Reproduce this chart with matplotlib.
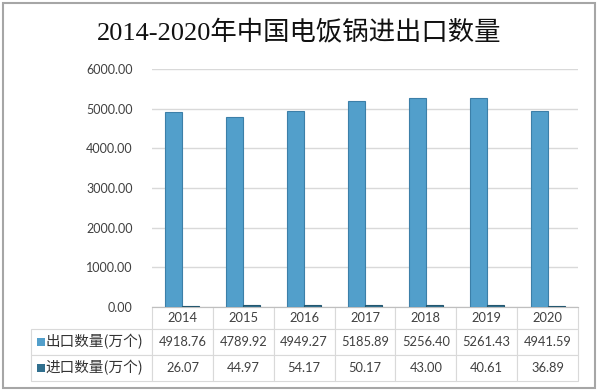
import numpy as np
import matplotlib
matplotlib.use('Agg')
import matplotlib.pyplot as plt
from matplotlib.patches import Rectangle

# data
years = ['2014', '2015', '2016', '2017', '2018', '2019', '2020']
export_qty = [4918.76, 4789.92, 4949.27, 5185.89, 5256.40, 5261.43, 4941.59]
import_qty = [26.07, 44.97, 54.17, 50.17, 43.00, 40.61, 36.89]
series_names = ['出口数量(万个)', '进口数量(万个)']
title = '2014-2020年中国电饭锅进出口数量'

plt.rcParams['font.family'] = ['Lato', 'Noto Sans CJK SC', 'DejaVu Sans']

W, H = 599, 392
fig = plt.figure(figsize=(W / 100, H / 100), dpi=100)
fig.patch.set_facecolor('white')

# axes box in pixels (left, top, right, bottom)
ax_l, ax_t, ax_r, ax_b = 152, 69, 578, 307
ax = fig.add_axes([ax_l / W, 1 - ax_b / H, (ax_r - ax_l) / W, (ax_b - ax_t) / H])

x = np.arange(len(years))
bw = 0.28
export_color = '#529FCB'
import_color = '#31708F'
ax.bar(x - bw / 2, export_qty, width=bw, color=export_color, edgecolor='#3C7FA8', linewidth=0.8, zorder=3)
ax.bar(x + bw / 2, import_qty, width=bw, color=import_color, edgecolor='#24576F', linewidth=0.8, zorder=3)

ax.set_xlim(-0.5, len(years) - 0.5)
ax.set_ylim(0, 6000)
ax.set_yticks(np.arange(0, 6001, 1000))
ax.set_yticklabels([f'{v:.2f}' for v in np.arange(0, 6001, 1000)])
ax.tick_params(axis='y', length=0, pad=14, labelsize=9, labelcolor='#404040')
ax.set_xticks([])
ax.grid(axis='y', color='#D9D9D9', linewidth=1, zorder=0)
for s in ['left', 'right', 'top']:
    ax.spines[s].set_visible(False)
ax.spines['bottom'].set_color('#BFBFBF')

# table under the axes, sizes in axes units so the bbox scale stays 1
ax_w, ax_h = ax_r - ax_l, ax_b - ax_t
tb_l, tb_b = 33, 381
head_h = 22 / ax_h
row_h = 26 / ax_h
lab_w = (ax_l - tb_l) / ax_w
col_w = 1 / len(years)
bbox = [0, -(tb_b - ax_b) / ax_h, 1, (tb_b - ax_b) / ax_h]

cell_text = [[f'{v:.2f}' for v in export_qty], [f'{v:.2f}' for v in import_qty]]
tbl = ax.table(cellText=cell_text, rowLabels=series_names, colLabels=years,
               cellLoc='center', rowLoc='left', bbox=bbox)
tbl.auto_set_font_size(False)
tbl.set_fontsize(9.3)
for (r, c), cell in tbl.get_celld().items():
    cell.set_edgecolor('#D9D9D9')
    cell.set_linewidth(0.8)
    cell.set_width(lab_w if c == -1 else col_w)
    cell.set_height(head_h if r == 0 else row_h)
    cell.get_text().set_color('#404040')
    if c == -1:
        cell.PAD = 14 / (ax_l - tb_l)
        cell.get_text().set_fontfamily('Noto Sans CJK SC')
        cell.get_text().set_fontsize(10.5)
        cell.get_text().set_color('#333333')

# legend keys in the row label cells
for i, colr in enumerate([export_color, import_color]):
    yc = ax_b + 22 + 26 * (i + 0.5)
    ax.add_patch(Rectangle(((tb_l + 4 - ax_l) / ax_w, -(yc + 4 - ax_b) / ax_h),
                           8 / ax_w, 8 / ax_h, transform=ax.transAxes,
                           facecolor=colr, edgecolor='none', clip_on=False, zorder=5))

fig.text(0.5, 1 - 32 / H, title, ha='center', va='center', fontsize=19,
         family=['Liberation Serif', 'Noto Sans CJK SC'], color='#111111')

# outer frame
fig.patches.append(Rectangle((3 / W, 4 / H), 592 / W, 385 / H, transform=fig.transFigure,
                             fill=False, edgecolor='#A6A6A6', linewidth=1.5))

fig.savefig('out.png', dpi=100)
